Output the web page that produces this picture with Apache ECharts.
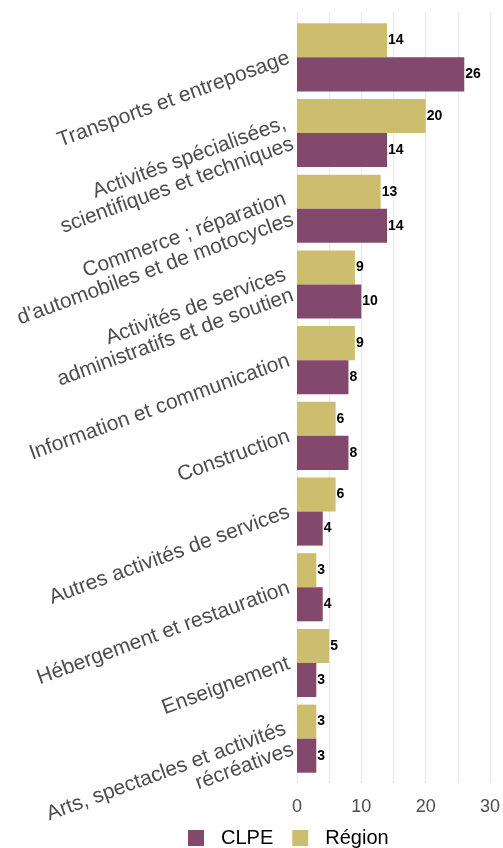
<!DOCTYPE html>
<html>
<head>
<meta charset="utf-8">
<script src="https://cdn.jsdelivr.net/npm/echarts@6/dist/echarts.min.js"></script>
<style>
  html, body { margin: 0; padding: 0; background: #fff; }
  #chart { width: 503px; height: 848px; }
</style>
</head>
<body>
<div id="chart"></div>
<script>
// Secteurs d'activité (du haut vers le bas)
const categories = [
  'Transports et entreposage',
  'Activités spécialisées,\nscientifiques et techniques',
  'Commerce ; réparation\nd\'automobiles et de motocycles',
  'Activités de services\nadministratifs et de soutien',
  'Information et communication',
  'Construction',
  'Autres activités de services',
  'Hébergement et restauration',
  'Enseignement',
  'Arts, spectacles et activités\nrécréatives'
];
const regionValues = [14, 20, 13, 9, 9, 6, 6, 3, 5, 3];
const clpeValues = [26, 14, 14, 10, 8, 8, 4, 4, 3, 3];
const xTicks = [0, 10, 20, 30];

const COLOR_CLPE = '#83496C';
const COLOR_REGION = '#CDBD6F';
const FONT = 'Liberation Sans, Arial, sans-serif';

const chart = echarts.init(document.getElementById('chart'), null, { renderer: 'canvas' });

const valueLabel = {
  show: true,
  position: 'right',
  distance: 1,
  color: '#000',
  fontWeight: 'bold',
  fontSize: 14,
  fontFamily: FONT
};

chart.setOption({
  animation: false,
  backgroundColor: '#fff',
  grid: [
    // panel carrying the vertical grid lines and the x tick labels
    { left: 297, width: 193, top: 11.7, height: 771.3, containLabel: false },
    // panel carrying the bars
    { left: 297, width: 193, top: 19.5, height: 757, containLabel: false }
  ],
  xAxis: [
    {
      gridIndex: 0, type: 'value', min: 0, max: 30, interval: 5,
      axisLine: { show: false }, axisTick: { show: false },
      splitLine: { show: true, lineStyle: { color: '#ebebeb', width: 1.4 } },
      axisLabel: {
        margin: 15, color: '#4d4d4d', fontSize: 18, fontFamily: FONT,
        formatter: v => (xTicks.indexOf(v) >= 0 ? String(v) : '')
      }
    },
    {
      gridIndex: 1, type: 'value', min: 0, max: 30, show: false
    }
  ],
  yAxis: [
    { gridIndex: 0, type: 'value', show: false, min: 0, max: 1 },
    {
      gridIndex: 1, type: 'category', data: categories, inverse: true,
      axisLine: { show: false }, axisTick: { show: false }, splitLine: { show: false },
      axisLabel: {
        rotate: 20, margin: 8, color: '#4d4d4d', fontSize: 21, fontFamily: FONT,
        align: 'right', verticalAlign: 'middle', lineHeight: 22
      }
    }
  ],
  legend: {
    bottom: -5, left: 183,
    itemWidth: 16, itemHeight: 16, itemGap: 19,
    icon: 'rect',
    data: ['CLPE', 'Région'],
    textStyle: { color: '#000', fontSize: 20, fontFamily: FONT, padding: [0, 0, 0, 12] }
  },
  series: [
    {
      name: 'Région', type: 'bar', xAxisIndex: 1, yAxisIndex: 1,
      data: regionValues, itemStyle: { color: COLOR_REGION },
      barGap: '0%', barCategoryGap: '10%', label: valueLabel
    },
    {
      name: 'CLPE', type: 'bar', xAxisIndex: 1, yAxisIndex: 1,
      data: clpeValues, itemStyle: { color: COLOR_CLPE },
      barGap: '0%', barCategoryGap: '10%', label: valueLabel
    }
  ]
});
</script>
</body>
</html>
